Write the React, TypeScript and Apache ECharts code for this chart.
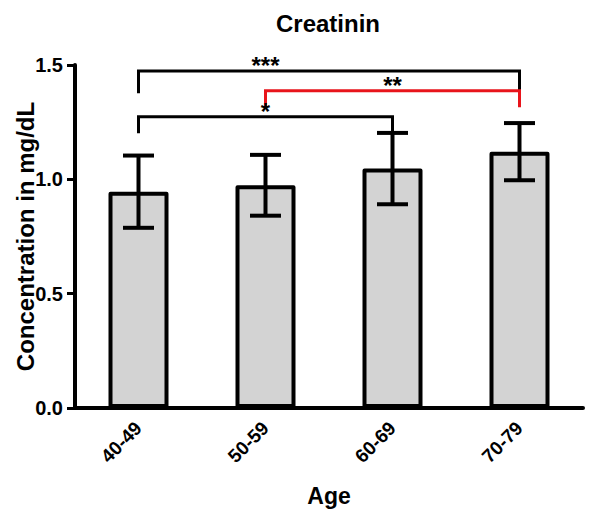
import React, { useEffect, useRef } from "react";
import * as echarts from "echarts";

const categories = ["40-49", "50-59", "60-69", "70-79"];
const means = [0.946, 0.974, 1.047, 1.121];
const sds = [0.158, 0.133, 0.156, 0.125];
const yTicks = [0, 0.5, 1.0, 1.5];

const bracketFrom = [0, 1, 0];
const bracketTo = [3, 3, 2];
const bracketLevel = [1.474, 1.387, 1.274];
const bracketLeftEnd = [1.376, 1.315, 1.201];
const bracketRightEnd = [1.387, 1.315, 1.201];
const bracketStars = ["***", "**", "*"];
const bracketLabelAt = [1.21, 1.97, 0.72];

const BRACKET_COLORS = ["#000000", "#e8141b", "#000000"];
const FONT = "'Liberation Sans', Arial, Helvetica, sans-serif";

export default function App() {
  const ref = useRef<HTMLDivElement>(null);
  useEffect(() => {
    document.body.style.margin = "0";
    const chart = echarts.init(ref.current!, null, { renderer: "svg" });
    const errData = means.map((m, i) => [i, m - sds[i], m + sds[i]]);
    const brData = bracketFrom.map((f, i) => [
      f,
      bracketTo[i],
      bracketLevel[i],
      bracketLeftEnd[i],
      bracketRightEnd[i],
      bracketLabelAt[i],
      i,
    ]);
    chart.setOption({
      animation: false,
      title: {
        text: "Creatinin",
        left: 271,
        top: 6,
        textStyle: { fontFamily: FONT, fontWeight: "bold", fontSize: 24, color: "#000" },
      },
      grid: { left: 75, right: 6, top: 65, bottom: 112, outerBoundsMode: "none", containLabel: false },
      xAxis: {
        type: "category",
        data: categories,
        name: "Age",
        nameLocation: "middle",
        nameGap: 76,
        nameMoveOverlap: false,
        nameTextStyle: { fontFamily: FONT, fontWeight: "bold", fontSize: 23, color: "#000" },
        axisLine: { lineStyle: { color: "#000", width: 4 } },
        axisTick: { alignWithLabel: true, length: 7, lineStyle: { color: "#000", width: 3 } },
        axisLabel: {
          rotate: 45,
          margin: 17,
          fontFamily: FONT,
          fontWeight: "bold",
          fontSize: 19,
          color: "#000",
        },
      },
      yAxis: {
        type: "value",
        min: 0,
        max: 1.5,
        interval: 0.5,
        name: "Concentration in mg/dL",
        nameLocation: "middle",
        nameGap: 38,
        nameMoveOverlap: false,
        nameTextStyle: { fontFamily: FONT, fontWeight: "bold", fontSize: 24, color: "#000" },
        axisLine: { show: true, lineStyle: { color: "#000", width: 4 } },
        axisTick: { show: true, length: 8, lineStyle: { color: "#000", width: 3 } },
        splitLine: { show: false },
        axisLabel: {
          margin: 12,
          fontFamily: FONT,
          fontWeight: "bold",
          fontSize: 20,
          color: "#000",
          formatter: (v: number) => (yTicks.includes(v) ? v.toFixed(1) : ""),
        },
      },
      series: [
        {
          type: "bar",
          data: means,
          barWidth: 60,
          itemStyle: { color: "#d3d3d3", borderColor: "#000", borderWidth: 4, borderJoin: "round" },
          z: 2,
        },
        {
          type: "custom",
          data: errData,
          z: 3,
          renderItem: (params: any, api: any) => {
            const x = api.value(0);
            const lo = api.coord([x, api.value(1)]);
            const hi = api.coord([x, api.value(2)]);
            const cap = 15.5;
            const style = { stroke: "#000", lineWidth: 4, fill: "none" };
            return {
              type: "group",
              children: [
                { type: "line", shape: { x1: lo[0], y1: lo[1], x2: hi[0], y2: hi[1] }, style },
                { type: "line", shape: { x1: hi[0] - cap, y1: hi[1], x2: hi[0] + cap, y2: hi[1] }, style },
                { type: "line", shape: { x1: lo[0] - cap, y1: lo[1], x2: lo[0] + cap, y2: lo[1] }, style },
              ],
            };
          },
        },
        {
          type: "custom",
          data: brData,
          z: 4,
          renderItem: (params: any, api: any) => {
            const f = api.value(0);
            const t = api.value(1);
            const lvl = api.value(2);
            const a = api.coord([f, api.value(3)]);
            const b = api.coord([f, lvl]);
            const c = api.coord([t, lvl]);
            const d = api.coord([t, api.value(4)]);
            const lab = api.coord([api.value(5), lvl]);
            const idx = api.value(6);
            const color = BRACKET_COLORS[idx];
            return {
              type: "group",
              children: [
                {
                  type: "polyline",
                  shape: { points: [a, b, c, d] },
                  style: { stroke: color, lineWidth: 3, fill: "none" },
                },
                {
                  type: "text",
                  x: lab[0],
                  y: lab[1] - 5,
                  style: {
                    text: bracketStars[idx],
                    fontFamily: FONT,
                    fontWeight: "bold",
                    fontSize: 24,
                    fill: "#000",
                    align: "center",
                    verticalAlign: "middle",
                  },
                },
              ],
            };
          },
        },
      ],
    });
    return () => chart.dispose();
  }, []);
  return <div ref={ref} style={{ width: 589, height: 520 }} />;
}
